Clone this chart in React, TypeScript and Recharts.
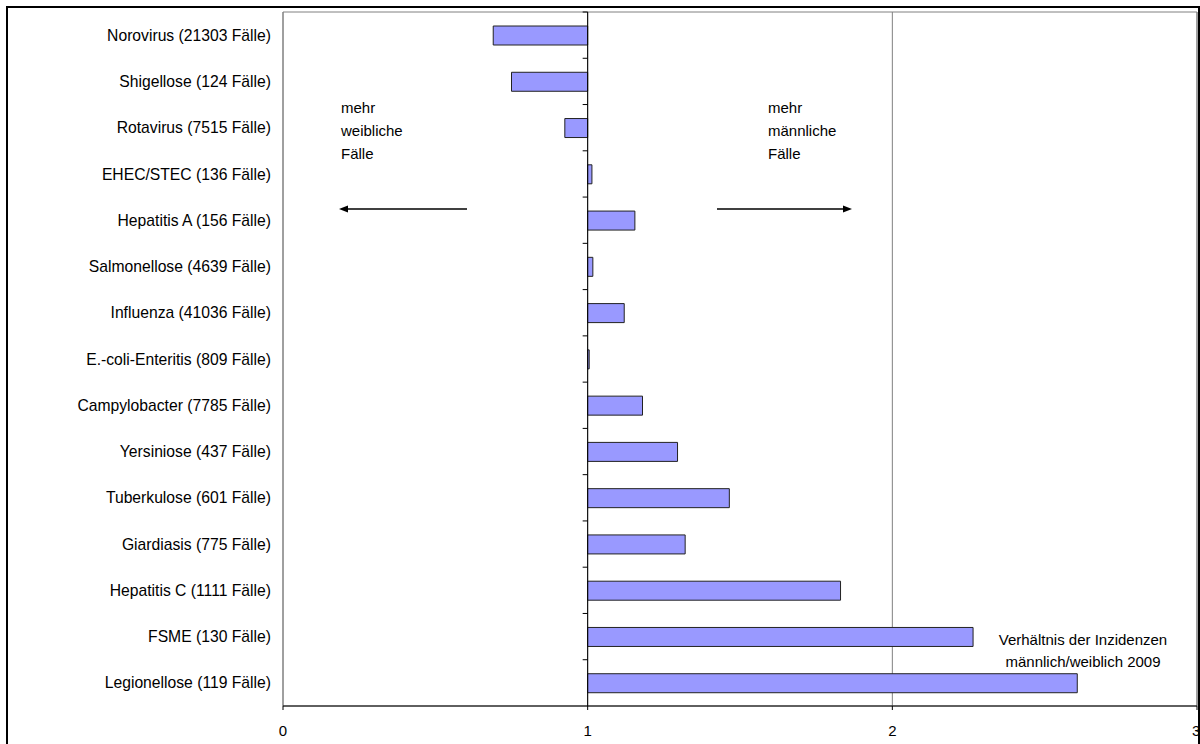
import React from "react";
import { BarChart, Bar, XAxis, YAxis, CartesianGrid, ReferenceLine, ReferenceArea } from "recharts";

const diseases = [
  "Norovirus (21303 Fälle)",
  "Shigellose (124 Fälle)",
  "Rotavirus (7515 Fälle)",
  "EHEC/STEC (136 Fälle)",
  "Hepatitis A (156 Fälle)",
  "Salmonellose (4639 Fälle)",
  "Influenza (41036 Fälle)",
  "E.-coli-Enteritis (809 Fälle)",
  "Campylobacter (7785 Fälle)",
  "Yersiniose (437 Fälle)",
  "Tuberkulose (601 Fälle)",
  "Giardiasis (775 Fälle)",
  "Hepatitis C (1111 Fälle)",
  "FSME (130 Fälle)",
  "Legionellose (119 Fälle)",
];

// Verhältnis der Inzidenzen männlich/weiblich
const ratios = [0.69, 0.75, 0.925, 1.014, 1.155, 1.017, 1.12, 1.005, 1.18, 1.295, 1.465, 1.32, 1.83, 2.265, 2.607];

const xTicks = [0, 1, 2, 3];

const data = diseases.map((name, i) => ({
  name,
  range: [Math.min(1, ratios[i]), Math.max(1, ratios[i])],
}));

const FONT = "'Liberation Sans', Arial, sans-serif";

// axis line at ratio 1 with category tick marks
const AxisAtOne = (props: any) => {
  const { x1, y1, y2 } = props;
  const top = Math.min(y1, y2);
  const bottom = Math.max(y1, y2);
  const step = (bottom - top) / diseases.length;
  return (
    <g>
      <line x1={x1} x2={x1} y1={top} y2={bottom} stroke="#000" strokeWidth={1} />
      {diseases.map((_, i) => (
        <line key={i} x1={x1 - 5} x2={x1} y1={top + step * i} y2={top + step * i} stroke="#000" />
      ))}
    </g>
  );
};

export default function App() {
  return (
    <div style={{ position: "absolute", left: 0, top: 0, width: 1200, height: 744, overflow: "hidden", background: "#fff" }}>
      <div
        style={{
          position: "absolute",
          left: 6,
          top: 6,
          width: 1194,
          height: 760,
          border: "2px solid #000",
          boxSizing: "border-box",
        }}
      />
      <div style={{ position: "absolute", left: 0, top: 0 }}>
        <BarChart
          width={1200}
          height={744}
          data={data}
          layout="vertical"
          margin={{ top: 12, right: 3, bottom: 8, left: 0 }}
          barSize={19}
        >
          <CartesianGrid horizontal={false} stroke="#808080" />
          <ReferenceArea x1={0} x2={3} fill="none" fillOpacity={0} stroke="#808080" strokeWidth={1} />
          <XAxis
            type="number"
            domain={[0, 3]}
            ticks={xTicks}
            height={30}
            tickSize={4}
            tickMargin={15}
            axisLine={{ stroke: "#000" }}
            tickLine={{ stroke: "#000" }}
            tick={{ fill: "#000", fontSize: 15, fontFamily: FONT }}
          />
          <YAxis
            type="category"
            dataKey="name"
            width={283}
            axisLine={false}
            tickLine={false}
            tickSize={0}
            tickMargin={12}
            interval={0}
            tick={{ fill: "#000", fontSize: 15.7, fontFamily: FONT }}
          />
          <Bar dataKey="range" fill="#9999FF" stroke="#222" strokeWidth={1} isAnimationActive={false} />
          <ReferenceLine x={1} shape={AxisAtOne} />
        </BarChart>
      </div>
      <svg
        width={1200}
        height={744}
        style={{ position: "absolute", left: 0, top: 0, pointerEvents: "none" }}
        fontFamily={FONT}
        fontSize={15}
      >
        <text x={341} y={113}>mehr</text>
        <text x={341} y={136}>weibliche</text>
        <text x={341} y={159}>Fälle</text>
        <text x={768} y={113}>mehr</text>
        <text x={768} y={136}>männliche</text>
        <text x={768} y={159}>Fälle</text>
        <text x={1083} y={645} textAnchor="middle">Verhältnis der Inzidenzen</text>
        <text x={1083} y={667} textAnchor="middle">männlich/weiblich 2009</text>
        <line x1={467} y1={209} x2={346} y2={209} stroke="#000" strokeWidth={1.5} />
        <polygon points="339,209 348,205.5 348,212.5" fill="#000" />
        <line x1={717} y1={209} x2={845} y2={209} stroke="#000" strokeWidth={1.5} />
        <polygon points="852,209 843,205.5 843,212.5" fill="#000" />
      </svg>
    </div>
  );
}
